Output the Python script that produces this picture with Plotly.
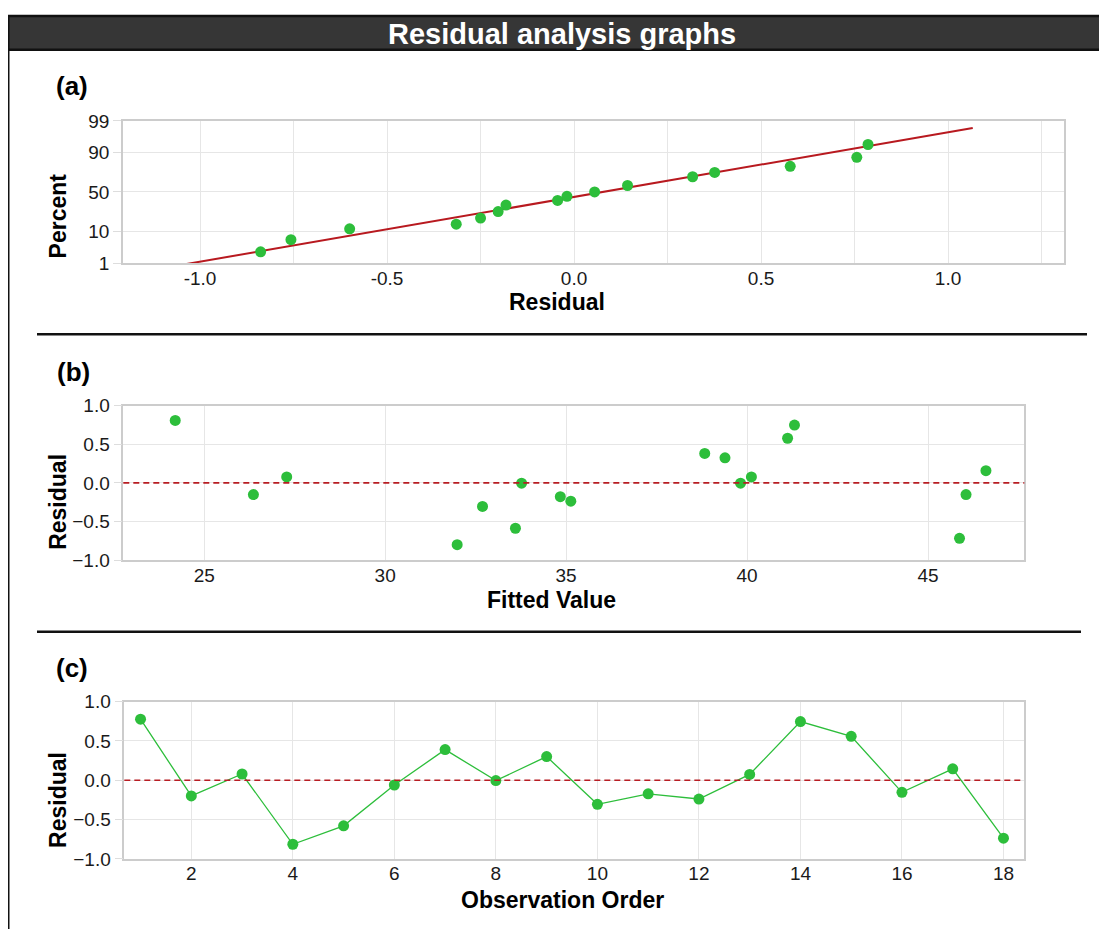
import plotly.graph_objects as go
from statistics import NormalDist

# ---------------- data ----------------
# (a) normal probability plot
qq_residual = [-0.838, -0.757, -0.600, -0.315, -0.250, -0.203, -0.182, -0.044,
               -0.019, 0.055, 0.143, 0.317, 0.376, 0.578, 0.756, 0.786]
qq_percent = [2.5, 5.9, 11.4, 14.6, 19.7, 26.1, 33.4, 39.1,
              44.4, 50.0, 58.4, 69.1, 73.9, 80.0, 87.2, 94.0]
fit_line_residual = [-1.109, 1.066]
fit_line_percent = [0.6, 98.2]
prob_ticks = [1, 10, 50, 90, 99]
qq_x_ticks = [-1.0, -0.5, 0.0, 0.5, 1.0]
qq_x_ticktext = ["-1.0", "-0.5", "0.0", "0.5", "1.0"]

# (b) residuals vs fitted values
fitted_values = [24.2, 26.36, 27.28, 31.99, 32.69, 33.60, 33.77, 34.84, 35.13,
                 38.83, 39.39, 39.82, 40.12, 41.12, 41.31, 45.87, 46.05, 46.6]
fitted_residuals = [0.808, -0.151, 0.077, -0.80, -0.304, -0.587, -0.004, -0.178, -0.237,
                    0.381, 0.324, -0.004, 0.077, 0.577, 0.747, -0.717, -0.151, 0.158]

# (c) residuals vs observation order
observation_order = [1, 2, 3, 4, 5, 6, 7, 8, 9, 10, 11, 12, 13, 14, 15, 16, 17, 18]
order_residuals = [0.775, -0.200, 0.079, -0.814, -0.580, -0.061, 0.389, -0.005, 0.300,
                   -0.306, -0.173, -0.239, 0.074, 0.745, 0.558, -0.154, 0.145, -0.736]
order_ticks = [2, 4, 6, 8, 10, 12, 14, 16, 18]

# ---------------- styling ----------------
# the page body keeps its default 8px margin, so the figure starts at (8, 8)
OFF = 8
W, H = 1107 - OFF, 939 - OFF
GREEN = "#2dbe3b"
RED = "#b8191f"
DASH_RED = "#b81c22"
GRID = "#e6e6e6"
AXLINE = "#cccccc"
FONT = "Liberation Sans, Arial, sans-serif"
TICKFONT = dict(family=FONT, size=19, color="#1a1a1a")


def px(X):
    return (X - OFF) / W


def py(Y):
    return 1 - (Y - OFF) / H


nd = NormalDist()


def prob_to_z(p):
    return nd.inv_cdf(p / 100.0)


fig = go.Figure()

# (a)
fig.add_trace(go.Scatter(
    x=fit_line_residual, y=[prob_to_z(p) for p in fit_line_percent],
    mode="lines", line=dict(color=RED, width=2),
    xaxis="x", yaxis="y", showlegend=False, hoverinfo="skip"))
fig.add_trace(go.Scatter(
    x=qq_residual, y=[prob_to_z(p) for p in qq_percent],
    mode="markers", marker=dict(color=GREEN, size=11),
    xaxis="x", yaxis="y", showlegend=False))

# (b)
fig.add_trace(go.Scatter(
    x=fitted_values, y=fitted_residuals,
    mode="markers", marker=dict(color=GREEN, size=11),
    xaxis="x2", yaxis="y2", showlegend=False))

# (c)
fig.add_trace(go.Scatter(
    x=observation_order, y=order_residuals,
    mode="lines+markers", marker=dict(color=GREEN, size=11),
    line=dict(color=GREEN, width=1.3),
    xaxis="x3", yaxis="y3", showlegend=False))

common_x = dict(showline=True, linecolor=AXLINE, linewidth=1.5, mirror=True,
                showgrid=True, gridcolor=GRID, gridwidth=1, zeroline=False,
                ticks="", tickfont=TICKFONT, ticklabelstandoff=-3)
common_y = dict(showline=True, linecolor=AXLINE, linewidth=1.5, mirror=True,
                showgrid=True, gridcolor=GRID, gridwidth=1, zeroline=False,
                ticks="outside", ticklen=8, tickcolor="#dddddd", tickfont=TICKFONT)

zmax = prob_to_z(99)

fig.update_layout(
    width=W, height=H,
    margin=dict(l=0, r=0, t=0, b=0),
    paper_bgcolor="white", plot_bgcolor="white",
    showlegend=False,
    xaxis=dict(domain=[px(123), px(1064)], anchor="y", range=[-1.206, 1.310],
               tickvals=qq_x_ticks, ticktext=qq_x_ticktext,
               minor=dict(dtick=0.25, tick0=0, showgrid=True, gridcolor=GRID),
               **common_x),
    yaxis=dict(domain=[py(258.7), py(113.3)], anchor="x", range=[-zmax, zmax],
               tickvals=[prob_to_z(p) for p in prob_ticks],
               ticktext=[str(p) for p in prob_ticks], **common_y),
    xaxis2=dict(domain=[px(123.3), px(1024.3)], anchor="y2", range=[22.765, 47.66],
                tick0=0, dtick=5, **common_x),
    yaxis2=dict(domain=[py(562.7), py(404.5)], anchor="x2", range=[-1, 1],
                tick0=0, dtick=0.5, tickformat=".1f", **common_y),
    xaxis3=dict(domain=[px(124.3), px(1024.3)], anchor="y3", range=[0.68, 18.41],
                tickvals=order_ticks, **common_x),
    yaxis3=dict(domain=[py(868.3), py(707.3)], anchor="x3", range=[-1, 1],
                tick0=0, dtick=0.5, tickformat=".1f", **common_y),
)

shapes = [
    # title bar
    dict(type="rect", xref="paper", yref="paper", x0=px(7), x1=px(1110), y0=py(40.5), y1=py(6),
         fillcolor="#363636", line=dict(color="#111111", width=2.5), layer="below"),
    # left border
    dict(type="line", xref="paper", yref="paper", x0=px(8.5), x1=px(8.5), y0=py(7), y1=py(940),
         line=dict(color="#111111", width=2)),
    # separators
    dict(type="line", xref="paper", yref="paper", x0=px(37), x1=px(1087), y0=py(331.5), y1=py(331.5),
         line=dict(color="#111111", width=2.5)),
    dict(type="line", xref="paper", yref="paper", x0=px(37), x1=px(1081), y0=py(636), y1=py(636),
         line=dict(color="#111111", width=2.5)),
    # zero reference lines
    dict(type="line", xref="x2 domain", yref="y2", x0=0, x1=1, y0=0, y1=0,
         line=dict(color=DASH_RED, width=1.6, dash="6px,4px")),
    dict(type="line", xref="x3 domain", yref="y3", x0=0, x1=1, y0=0, y1=0,
         line=dict(color=DASH_RED, width=1.6, dash="6px,4px")),
]
fig.update_layout(shapes=shapes)

TITLE_FONT = dict(family=FONT, size=23, color="#000000", weight="bold")
LABEL_FONT = dict(family=FONT, size=26, color="#000000", weight="bold")
ann = [
    dict(text="Residual analysis graphs", x=px(562), y=py(24),
         font=dict(family=FONT, size=29, color="white", weight="bold")),
    dict(text="(a)", x=px(72), y=py(78), font=LABEL_FONT),
    dict(text="(b)", x=px(73), y=py(370), font=LABEL_FONT),
    dict(text="(c)", x=px(72), y=py(673), font=LABEL_FONT),
    dict(text="Percent", x=px(58), y=py(211), textangle=-90, font=TITLE_FONT),
    dict(text="Residual", x=px(557), y=py(299), font=TITLE_FONT),
    dict(text="Residual", x=px(58), y=py(503), textangle=-90, font=TITLE_FONT),
    dict(text="Fitted Value", x=px(551), y=py(603), font=TITLE_FONT),
    dict(text="Residual", x=px(58), y=py(808), textangle=-90, font=TITLE_FONT),
    dict(text="Observation Order", x=px(562), y=py(910), font=TITLE_FONT),
]
for a in ann:
    a.setdefault("xref", "paper")
    a.setdefault("yref", "paper")
    a.setdefault("showarrow", False)
    a.setdefault("xanchor", "center")
    a.setdefault("yanchor", "middle")
fig.update_layout(annotations=ann)

fig.write_html("out.html", config={"displayModeBar": False})
